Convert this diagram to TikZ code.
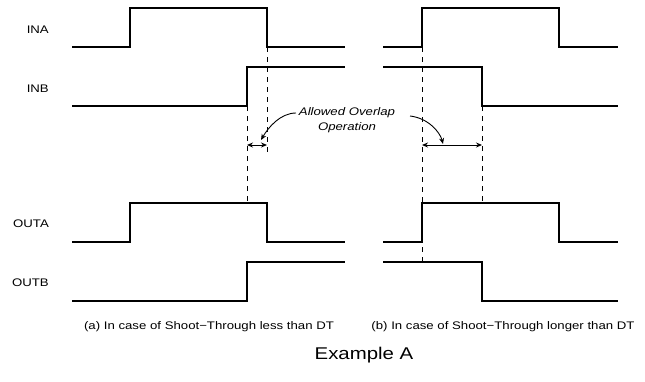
\documentclass[tikz,border=0pt]{standalone}
\usepackage{fontspec}
\setmainfont{Liberation Sans}[FakeStretch=1.2]
\usetikzlibrary{arrows.meta}

\begin{document}
\begin{tikzpicture}[x=1pt, y=-1pt,
    sig/.style={line width=1.8pt, line join=miter},
    guide/.style={dash pattern=on 5pt off 5pt, line width=0.9pt},
    span/.style={{Stealth[length=6pt,width=5pt]}-{Stealth[length=6pt,width=5pt]}, line width=0.9pt},
    callout/.style={-{Stealth[length=6pt,width=5pt]}, line width=0.9pt},
    lbl/.style={anchor=east, inner sep=0pt, font=\fontsize{11}{13}\selectfont},
    caption/.style={inner sep=0pt, font=\fontsize{11}{13}\selectfont}
]
    \useasboundingbox (0,0) rectangle (645,381);

    % signal names
    \node[lbl] (ina) at (49,30) {INA};
    \node[lbl] (inb) at (49,89) {INB};
    \node[lbl] (outa) at (49,224) {OUTA};
    \node[lbl] (outb) at (49,283) {OUTB};

    % (a) shoot-through less than DT
    \draw[sig] (72,47) -- (130,47) -- (130,8) -- (267,8) -- (267,47) -- (345,47);
    \draw[sig] (72,106) -- (247,106) -- (247,67) -- (345,67);
    \draw[sig] (72,242) -- (130,242) -- (130,203) -- (267,203) -- (267,242) -- (345,242);
    \draw[sig] (72,301) -- (247,301) -- (247,262) -- (345,262);

    % (b) shoot-through longer than DT
    \draw[sig] (383,47) -- (422,47) -- (422,8) -- (559,8) -- (559,47) -- (618,47);
    \draw[sig] (383,67) -- (482,67) -- (482,106) -- (618,106);
    \draw[sig] (383,242) -- (422,242) -- (422,203) -- (559,203) -- (559,242) -- (618,242);
    \draw[sig] (383,262) -- (482,262) -- (482,301) -- (618,301);

    % edge markers
    \coordinate (aBup) at (247,106);
    \coordinate (aBend) at (247,203);
    \coordinate (aAdn) at (267,47);
    \coordinate (aAend) at (267,153);
    \coordinate (bAup) at (422,47);
    \coordinate (bAend) at (422,262);
    \coordinate (bBdn) at (482,106);
    \coordinate (bBend) at (482,203);
    \draw[guide] (aBup) -- (aBend);
    \draw[guide] (aAdn) -- (aAend);
    \draw[guide] (bAup) -- (bAend);
    \draw[guide] (bBdn) -- (bBend);

    \coordinate (aL) at (247,145);
    \coordinate (aR) at (267,145);
    \coordinate (bL) at (422,145);
    \coordinate (bR) at (482,145);
    \draw[span] (aL) -- (aR);
    \draw[span] (bL) -- (bR);

    % overlap note
    \node[align=center, inner sep=0pt, font=\fontsize{11}{15}\selectfont\itshape] (overlap) at (347,120)
        {Allowed Overlap\\Operation};
    \coordinate (noteL) at (296,113);
    \coordinate (noteR) at (410,116);
    \coordinate (tipL) at (261,140);
    \coordinate (tipR) at (443,144);
    \draw[callout] (noteL) .. controls (280,113) and (268,128) .. (tipL);
    \draw[callout] (noteR) .. controls (428,118) and (440,132) .. (tipR);

    % captions
    \node[caption] (capa) at (209,327) {(a) In case of Shoot\textminus Through less than DT};
    \node[caption] (capb) at (503,327) {(b) In case of Shoot\textminus Through longer than DT};
    \node[inner sep=0pt, font=\fontsize{17}{20}\selectfont] (title) at (364,355) {Example A};
\end{tikzpicture}
\end{document}
